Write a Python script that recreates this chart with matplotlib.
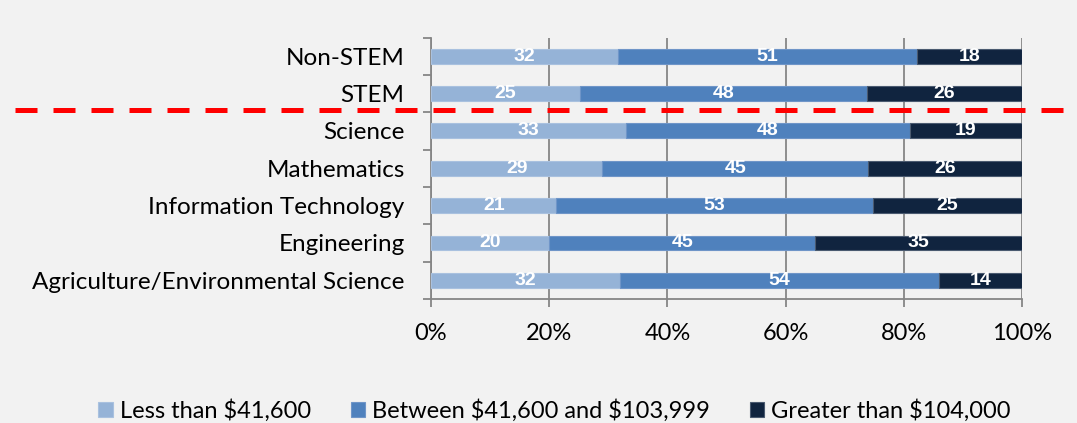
import matplotlib.pyplot as plt
import numpy as np
from matplotlib.lines import Line2D
from matplotlib.transforms import blended_transform_factory

categories = ["Non-STEM", "STEM", "Science", "Mathematics", "Information Technology",
              "Engineering", "Agriculture/Environmental Science"]
low = [32, 25, 33, 29, 21, 20, 32]
mid = [51, 48, 48, 45, 53, 45, 54]
high = [18, 26, 19, 26, 25, 35, 14]
series_names = [r"Less than \$41,600", r"Between \$41,600 and \$103,999", r"Greater than \$104,000"]
colors = ["#95B3D7", "#4F81BD", "#10243F"]
edge_colors = ["#A9C1DF", "#6F95C8", "#4A5A70"]

plt.rcParams['font.family'] = ['Lato', 'DejaVu Sans']
bg = "#F2F2F2"

fig = plt.figure(figsize=(10.77, 4.23), dpi=100, facecolor=bg)
ax = fig.add_axes([0.4002, 0.2931, 0.5487, 0.6182])
ax.set_facecolor(bg)

data = np.array([low, mid, high], dtype=float)
pct = data / data.sum(axis=0) * 100
y = np.arange(len(categories))[::-1]

left = np.zeros(len(categories))
for i in range(3):
    ax.barh(y, pct[i], left=left, height=0.4, color=colors[i], edgecolor=edge_colors[i],
            linewidth=0.8, label=series_names[i], zorder=3)
    for j in range(len(categories)):
        ax.text(left[j] + pct[i][j] / 2, y[j], str(int(data[i][j])), ha='center', va='center',
                color='white', fontsize=14, fontweight='bold', family='Liberation Sans', zorder=4)
    left += pct[i]

ax.set_xlim(0, 100)
ax.set_ylim(-0.5, len(categories) - 0.5)
ax.set_xticks(range(0, 101, 20))
ax.set_xticklabels([f"{v}%" for v in range(0, 101, 20)], fontsize=17)
ax.set_yticks(y)
ax.set_yticklabels(categories, fontsize=17.5)
ax.set_yticks(np.arange(-0.5, len(categories), 1), minor=True)
ax.tick_params(axis='y', which='major', length=0, pad=19)
ax.tick_params(axis='y', which='minor', length=6, color='#868686', width=1.3)
ax.tick_params(axis='x', length=6, color='#868686', width=1.3, pad=11)
ax.xaxis.grid(True, color='#868686', linewidth=1.3, zorder=0)
for s in ['top', 'right']:
    ax.spines[s].set_visible(False)
for s in ['left', 'bottom']:
    ax.spines[s].set_color('#868686')
    ax.spines[s].set_linewidth(1.3)

# red dashed divider between STEM and Science
trans = blended_transform_factory(fig.transFigure, ax.transData)
div_y = (y[1] + y[2]) / 2 + 0.05
fig.add_artist(Line2D([0.014, 1.0], [div_y, div_y], transform=trans, color='#FF0000',
                      linewidth=3.6, linestyle=(0, (4.4, 3.2)), clip_on=False, zorder=10))

fig.legend(loc='center', bbox_to_anchor=(0.515, 0.03), ncol=3, frameon=False, fontsize=17,
           handlelength=0.6, handleheight=0.6, handletextpad=0.3, columnspacing=1.7)

fig.savefig("out.png", dpi=100, facecolor=bg)
